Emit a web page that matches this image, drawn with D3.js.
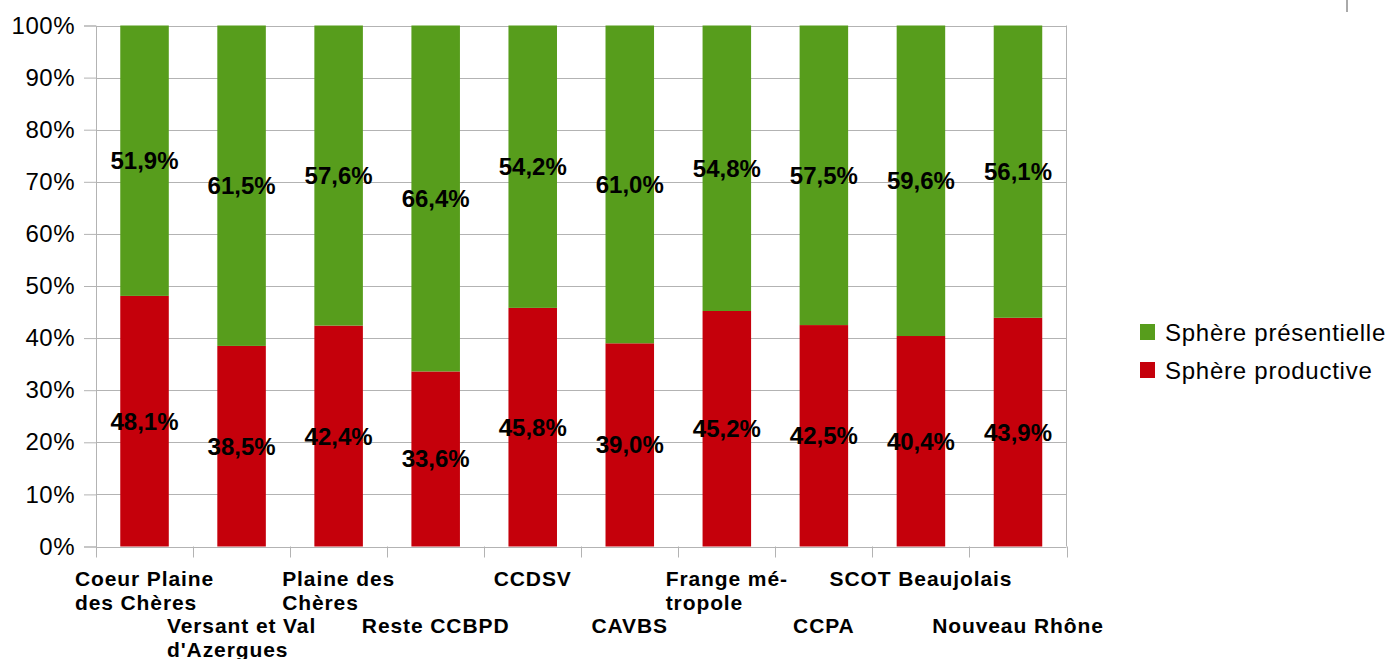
<!DOCTYPE html>
<html>
<head>
<meta charset="utf-8">
<script src="https://cdn.jsdelivr.net/npm/d3@7"></script>
<style>
  body { margin: 0; background: #fff; }
  svg { display: block; font-family: "Liberation Sans", Arial, sans-serif; }
</style>
</head>
<body>
<div class="chart"></div>
<script>
// categories (full names) and how they are wrapped under the axis
const categories = ["Coeur Plaine des Chères", "Versant et Val d'Azergues", "Plaine des Chères",
    "Reste CCBPD", "CCDSV", "CAVBS", "Frange métropole", "CCPA", "SCOT Beaujolais", "Nouveau Rhône"];
const tickLines = [["Coeur Plaine", "des Chères"], ["Versant et Val", "d'Azergues"], ["Plaine des", "Chères"],
    ["Reste CCBPD"], ["CCDSV"], ["CAVBS"], ["Frange mé-", "tropole"], ["CCPA"], ["SCOT Beaujolais"], ["Nouveau Rhône"]];

// percentages
const productive = [48.1, 38.5, 42.4, 33.6, 45.8, 39.0, 45.2, 42.5, 40.4, 43.9];
const presentielle = [51.9, 61.5, 57.6, 66.4, 54.2, 61.0, 54.8, 57.5, 59.6, 56.1];

const seriesNames = ["Sphère présentielle", "Sphère productive"];
const yTicks = [0, 10, 20, 30, 40, 50, 60, 70, 80, 90, 100];

const W = 1390, H = 659;
const margin = {top: 25.5, right: 323.5, bottom: 112.5, left: 96};
const colors = {productive: "#c5000b", presentielle: "#579d1c"};
const gridColor = "#b3b3b3";

const svg = d3.select('.chart').append('svg')
    .attr('width', W)
    .attr('height', H);

const x = d3.scaleBand()
    .domain(categories)
    .range([margin.left, W - margin.right])
    .paddingInner(0.5)
    .paddingOuter(0.25);

const y = d3.scaleLinear()
    .domain([0, 100])
    .range([H - margin.bottom, margin.top]);

const fmt = v => v.toFixed(1).replace('.', ',') + '%';

// gridlines
svg.append('g')
    .selectAll('line')
    .data(yTicks)
    .enter().append('line')
    .attr('x1', margin.left)
    .attr('x2', W - margin.right)
    .attr('y1', d => Math.round(y(d)) + 0.5)
    .attr('y2', d => Math.round(y(d)) + 0.5)
    .attr('stroke', gridColor)
    .attr('stroke-width', 1);

// right border of the plot area
svg.append('line')
    .attr('x1', W - margin.right).attr('x2', W - margin.right)
    .attr('y1', y(100)).attr('y2', y(0))
    .attr('stroke', gridColor);

// stacked bars
const step = x.step();
categories.forEach(function(c, i) {
    svg.append('rect')
        .attr('x', x(c))
        .attr('width', x.bandwidth())
        .attr('y', y(productive[i]))
        .attr('height', y(0) - y(productive[i]))
        .attr('fill', colors.productive);
    svg.append('rect')
        .attr('x', x(c))
        .attr('width', x.bandwidth())
        .attr('y', y(productive[i] + presentielle[i]))
        .attr('height', y(productive[i]) - y(productive[i] + presentielle[i]))
        .attr('fill', colors.presentielle);
});

// data labels centered in each segment
const labels = svg.append('g')
    .attr('font-size', 24)
    .attr('font-weight', 'bold')
    .attr('text-anchor', 'middle')
    .attr('fill', '#000');
categories.forEach(function(c, i) {
    const cx = x(c) + x.bandwidth() / 2;
    labels.append('text')
        .attr('x', cx)
        .attr('y', y(productive[i] / 2) + 8.5)
        .text(fmt(productive[i]));
    labels.append('text')
        .attr('x', cx)
        .attr('y', y(productive[i] + presentielle[i] / 2) + 8.5)
        .text(fmt(presentielle[i]));
});

// y axis
const yAxis = svg.append('g')
    .attr('transform', 'translate(' + margin.left + ',0)')
    .call(d3.axisLeft(y).tickValues(yTicks).tickSize(12).tickPadding(9).tickFormat(d => d + '%'));
yAxis.select('.domain').attr('stroke', gridColor);
yAxis.selectAll('.tick line').attr('stroke', gridColor);
yAxis.selectAll('.tick text')
    .attr('font-size', 24)
    .attr('font-family', '"Liberation Sans", Arial, sans-serif')
    .attr('letter-spacing', 0.5)
    .attr('fill', '#000');

// x axis: ticks at category boundaries
const bounds = d3.range(categories.length + 1).map(i => margin.left + i * step);
svg.append('g')
    .selectAll('line')
    .data(bounds)
    .enter().append('line')
    .attr('x1', d => Math.round(d) + 0.5)
    .attr('x2', d => Math.round(d) + 0.5)
    .attr('y1', y(0))
    .attr('y2', y(0) + 11)
    .attr('stroke', gridColor);

// staggered, wrapped category labels
const tickG = svg.append('g')
    .attr('font-size', 21)
    .attr('font-weight', 'bold')
    .attr('letter-spacing', 0.9)
    .attr('fill', '#000');
categories.forEach(function(c, i) {
    const cx = x(c) + x.bandwidth() / 2;
    const baseY = i % 2 === 0 ? 586 : 633;
    const t = tickG.append('text').attr('y', baseY);
    tickLines[i].forEach(function(line, j) {
        t.append('tspan')
            .attr('x', 0)
            .attr('y', baseY + j * 24)
            .text(line);
    });
    const wMax = d3.max(t.selectAll('tspan').nodes(), n => n.getComputedTextLength());
    t.selectAll('tspan').attr('x', cx - wMax / 2);
});

// legend
const legend = svg.append('g')
    .attr('transform', 'translate(1140,324)');
const legendColors = [colors.presentielle, colors.productive];
seriesNames.forEach(function(name, i) {
    legend.append('rect')
        .attr('x', 0)
        .attr('y', i * 38)
        .attr('width', 15)
        .attr('height', 16)
        .attr('fill', legendColors[i]);
    legend.append('text')
        .attr('x', 25)
        .attr('y', i * 38 + 17)
        .attr('font-size', 24)
        .attr('letter-spacing', 0.75)
        .attr('fill', '#000')
        .text(name);
});

// small mark at the top right
svg.append('line')
    .attr('x1', 1347).attr('x2', 1347)
    .attr('y1', 0).attr('y2', 12)
    .attr('stroke', '#555');
</script>
</body>
</html>
